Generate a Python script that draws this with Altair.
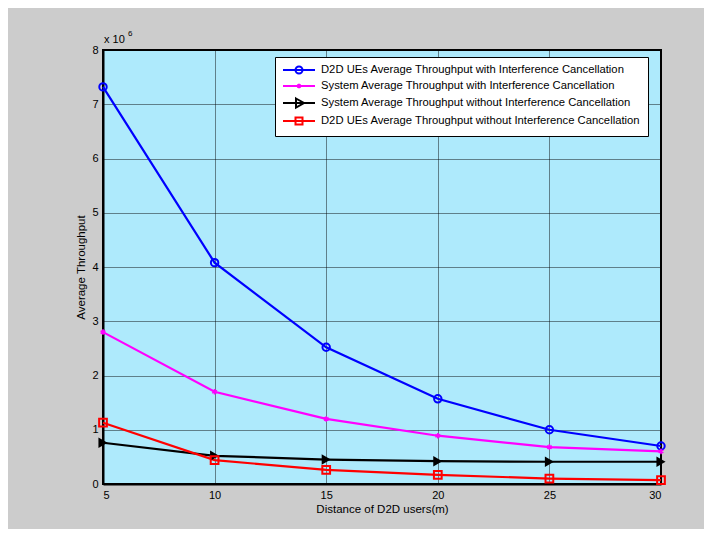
import altair as alt
import pandas as pd

distance = [5, 10, 15, 20, 25, 30]
series_names = [
    "D2D UEs Average Throughput with Interference Cancellation",
    "System Average Throughput with Interference Cancellation",
    "System Average Throughput without Interference Cancellation",
    "D2D UEs Average Throughput without Interference Cancellation",
]
d2d_with_ic = [7.32, 4.08, 2.52, 1.57, 1.00, 0.70]
sys_with_ic = [2.80, 1.70, 1.20, 0.89, 0.68, 0.60]
sys_without_ic = [0.76, 0.52, 0.45, 0.42, 0.41, 0.41]
d2d_without_ic = [1.13, 0.44, 0.26, 0.17, 0.10, 0.07]
colors = ["#0000ff", "#ff00ff", "#000000", "#ff0000"]
x_ticks = [5, 10, 15, 20, 25, 30]
y_ticks = [0, 1, 2, 3, 4, 5, 6, 7, 8]

all_vals = [d2d_with_ic, sys_with_ic, sys_without_ic, d2d_without_ic]
rows = []
for name, vals in zip(series_names, all_vals):
    for d, v in zip(distance, vals):
        rows.append({"series": name, "distance": d, "value": v})
df = pd.DataFrame(rows)

FONT = "Liberation Sans"

# legend symbols: line segment with marker (1 unit = 5 px at symbolSize 100)
legend_paths = [
    "M-3.2,0L3.2,0M0.7,0A0.7,0.7 0 1,1 -0.7,0A0.7,0.7 0 1,1 0.7,0",
    "M-3.2,0L3.2,0M0,-0.45L0,0.45M-0.4,-0.22L0.4,0.22M-0.4,0.22L0.4,-0.22",
    "M-3.2,0L3.2,0M-0.6,-0.9L1,0L-0.6,0.9Z",
    "M-3.2,0L3.2,0M-0.7,-0.7L0.7,-0.7L0.7,0.7L-0.7,0.7Z",
]

x_enc = alt.X("distance:Q", scale=alt.Scale(domain=[5, 30], nice=False),
              axis=alt.Axis(values=x_ticks, title="Distance of D2D users(m)", grid=True,
                            labelPadding=5, titlePadding=3))
y_enc = alt.Y("value:Q", scale=alt.Scale(domain=[0, 8], nice=False),
              axis=alt.Axis(values=y_ticks, title="Average Throughput", grid=True,
                            labelPadding=5, titlePadding=5))
color_scale = alt.Scale(domain=series_names, range=colors)
leg = alt.Legend(title=None, orient="none", legendX=172, legendY=7)

base = alt.Chart(df)

legend_layer = base.mark_point(opacity=0, filled=False).encode(
    x=x_enc, y=y_enc,
    color=alt.Color("series:N", scale=color_scale, legend=leg),
    shape=alt.Shape("series:N", scale=alt.Scale(domain=series_names, range=legend_paths),
                    legend=leg),
)

lines = base.mark_line(strokeWidth=2.2).encode(
    x=x_enc, y=y_enc,
    color=alt.Color("series:N", scale=color_scale, legend=leg),
)

marker_specs = [
    (series_names[0], "circle", 55, False, 2, colors[0]),
    (series_names[1], "M0,-1L0,1M-0.87,-0.5L0.87,0.5M-0.87,0.5L0.87,-0.5", 30, False, 1.6, colors[1]),
    (series_names[2], "triangle-right", 110, True, 1, colors[2]),
    (series_names[3], "square", 60, False, 2, colors[3]),
]
marker_layers = []
for name, shp, sz, filled, sw, col in marker_specs:
    marker_layers.append(
        base.transform_filter(alt.datum.series == name).mark_point(
            shape=shp, size=sz, filled=filled, strokeWidth=sw, color=col, opacity=1
        ).encode(x=x_enc, y=y_enc)
    )

exp_text = alt.Chart(pd.DataFrame({"t": ["x 10"]})).mark_text(
    align="left", baseline="middle", font=FONT, fontSize=11, color="black"
).encode(text="t:N", x=alt.value(1), y=alt.value(-10))
sup_text = alt.Chart(pd.DataFrame({"t": ["6"]})).mark_text(
    align="left", baseline="middle", font=FONT, fontSize=8, color="black"
).encode(text="t:N", x=alt.value(25), y=alt.value(-16))

layers = [legend_layer, lines] + marker_layers + [exp_text, sup_text]
chart = alt.layer(*layers).properties(
    width=558, height=434,
    background="#cccccc",
    padding={"left": 95, "top": 42, "right": 43, "bottom": 45},
    autosize=alt.AutoSizeParams(type="none"),
).configure_view(
    fill="#aeeafc", stroke="black", strokeWidth=2
).configure_axis(
    labelFont=FONT, labelFontSize=11, labelColor="black",
    titleFont=FONT, titleFontSize=11.5, titleFontWeight="normal", titleColor="black",
    domainColor="black", domainWidth=2, ticks=False,
    gridColor="#000000", gridOpacity=0.45, gridWidth=1,
).configure_legend(
    labelFont=FONT, labelFontSize=11.25, labelColor="black", labelLimit=500,
    fillColor="white", strokeColor="black", strokeWidth=1, padding=7,
    symbolSize=100, symbolStrokeWidth=2, symbolOpacity=1, symbolFillColor="transparent",
    symbolOffset=11, rowPadding=1, labelOffset=16,
)

chart.save("out.html", embed_options={"renderer": "svg", "actions": False})
